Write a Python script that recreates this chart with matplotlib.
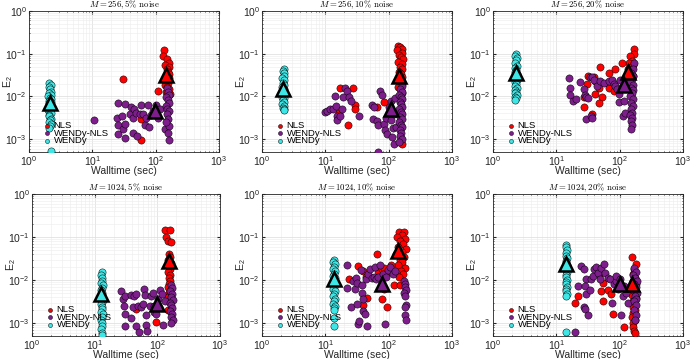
import numpy as np
import matplotlib
matplotlib.use("Agg")
import matplotlib.pyplot as plt

plt.rcParams["font.family"] = "Liberation Sans"
plt.rcParams["mathtext.fontset"] = "custom"
plt.rcParams["mathtext.rm"] = "Liberation Sans"
plt.rcParams["mathtext.it"] = "Liberation Sans:italic"

# (walltime, E2), one list per method and panel
p1_nls = [(135, 0.12), (131, 0.089), (150, 0.075), (160, 0.062), (140, 0.055), (165, 0.05), (150, 0.044),
          (155, 0.038), (160, 0.034), (145, 0.03), (165, 0.027), (155, 0.024), (158, 0.021), (142, 0.019),
          (150, 0.017), (162, 0.015), (148, 0.013), (155, 0.012), (166, 0.0113), (31, 0.025), (108, 0.0135),
          (59, 0.003), (59, 0.00095)]
p1_wnls = [(10.5, 0.0028), (25, 0.0072), (24.5, 0.0031), (25, 0.0021), (25, 0.0013), (29, 0.0035), (30, 0.0017),
           (32.5, 0.0023), (33, 0.00105), (33, 0.0066), (39, 0.0039), (41, 0.0057), (44, 0.0032), (44, 0.0014),
           (46, 0.005), (49.5, 0.0042), (51, 0.0012), (56, 0.0039), (59, 0.0064), (63, 0.0039), (67, 0.0022),
           (71, 0.0031), (76, 0.0064), (79, 0.0019), (85, 0.0036), (91, 0.0046), (102, 0.0064), (108, 0.0032),
           (116, 0.0051), (150, 0.016), (158, 0.013), (162, 0.011), (148, 0.0095), (155, 0.0082), (160, 0.007),
           (145, 0.006), (152, 0.0052), (165, 0.0045), (150, 0.0038), (158, 0.003), (138, 0.0017), (162, 0.002),
           (155, 0.0014), (160, 0.00095), (148, 0.0025)]
p1_wendy = [(2.1, 0.021), (2.2, 0.019), (2.05, 0.017), (2.15, 0.015), (2.25, 0.013), (2.1, 0.012), (2.2, 0.011),
            (2.0, 0.010), (2.15, 0.009), (2.25, 0.0085), (2.1, 0.008), (2.2, 0.0075), (2.05, 0.007), (2.15, 0.0065),
            (2.2, 0.006), (2.1, 0.0055), (2.25, 0.005), (2.0, 0.0047), (2.15, 0.0044), (2.2, 0.004), (2.1, 0.0037),
            (2.05, 0.0034), (2.2, 0.003), (2.15, 0.0028), (2.1, 0.0025), (2.25, 0.0023), (2.15, 0.002),
            (2.1, 0.0018), (2.2, 0.00052)]
p1_tri = [(147, 0.032), (96, 0.0046), (2.12, 0.0069)]

p2_nls = [(140, 0.155), (150, 0.14), (160, 0.13), (135, 0.12), (165, 0.105), (145, 0.095), (155, 0.085),
          (170, 0.075), (140, 0.065), (160, 0.058), (150, 0.05), (165, 0.044), (145, 0.038), (155, 0.033),
          (160, 0.028), (150, 0.024), (165, 0.02), (140, 0.017), (155, 0.0145), (160, 0.012), (158, 0.001),
          (162, 0.00079), (17, 0.0157), (27, 0.0157), (29.7, 0.0064), (29, 0.0051), (23, 0.0021), (65, 0.0058),
          (83, 0.0073), (16.7, 0.0041)]
p2_wnls = [(9.9, 0.0043), (10.5, 0.0046), (11.9, 0.005), (13, 0.005), (14.2, 0.0104), (14.7, 0.006),
           (15.1, 0.0035), (15.5, 0.0028), (17, 0.0034), (18.1, 0.005), (20.5, 0.0157), (19.3, 0.0095),
           (22, 0.0135), (24, 0.0095), (25, 0.0079), (33.4, 0.0035), (54, 0.0064), (59, 0.0058), (56, 0.0029),
           (65, 0.0027), (69, 0.0021), (74, 0.0135), (78, 0.011), (83, 0.0023), (86, 0.0016), (91, 0.0032),
           (94, 0.0013), (100, 0.0056), (107, 0.0028), (110, 0.0079), (113, 0.0011), (120, 0.0038), (69, 0.0005),
           (118, 0.0018), (126, 0.009), (132, 0.0019), (120, 0.00077), (155, 0.022), (165, 0.018), (150, 0.015),
           (160, 0.013), (145, 0.011), (158, 0.0095), (165, 0.0085), (150, 0.0075), (155, 0.0065), (162, 0.0058),
           (148, 0.005), (158, 0.0044), (165, 0.0038), (152, 0.0033), (160, 0.0029), (145, 0.0025), (155, 0.0022),
           (162, 0.0019), (150, 0.0016), (158, 0.0014), (152, 0.0012), (160, 0.001), (148, 0.00085)]
p2_wendy = [(2.2, 0.044), (2.15, 0.04), (2.25, 0.035), (2.2, 0.03), (2.1, 0.027), (2.25, 0.024), (2.15, 0.021),
            (2.2, 0.019), (2.1, 0.017), (2.25, 0.015), (2.2, 0.013), (2.15, 0.012), (2.25, 0.011), (2.1, 0.0098),
            (2.2, 0.009), (2.15, 0.0082), (2.25, 0.0075), (2.1, 0.0068), (2.2, 0.006), (2.15, 0.0055),
            (2.25, 0.005), (2.2, 0.0047)]
p2_tri = [(144, 0.030), (107, 0.0052), (2.15, 0.0148)]

p3_nls = [(167, 0.132), (170, 0.097), (148, 0.089), (157, 0.068), (139, 0.062), (151, 0.048), (165, 0.055),
          (139, 0.038), (109, 0.062), (134, 0.044), (160, 0.03), (150, 0.025), (145, 0.02), (49, 0.048),
          (67, 0.036), (85, 0.044), (32, 0.03), (41, 0.023), (39, 0.028), (63, 0.021), (30, 0.0195), (75, 0.023),
          (48, 0.0154), (69, 0.0157), (82, 0.0136), (41, 0.0117), (52, 0.0095), (48, 0.0072), (27, 0.0058),
          (27.5, 0.0095), (36, 0.0039), (155, 0.015), (150, 0.011)]
p3_wnls = [(16, 0.027), (16.5, 0.0157), (16.5, 0.011), (18.6, 0.0079), (20.5, 0.0087), (23.8, 0.022),
           (27.5, 0.0148), (28.4, 0.011), (29.4, 0.0095), (32, 0.0092), (29.4, 0.0029), (35, 0.0035), (36, 0.0032),
           (34, 0.029), (36, 0.029), (39.5, 0.024), (43.5, 0.018), (49, 0.023), (56, 0.021), (67, 0.023),
           (75, 0.024), (80, 0.0195), (85, 0.018), (90, 0.0148), (96, 0.0113), (96, 0.0075), (102, 0.024),
           (109, 0.0162), (111, 0.0034), (116, 0.0079), (122, 0.0042), (128, 0.0168), (170, 0.062), (160, 0.045),
           (150, 0.035), (165, 0.03), (155, 0.026), (145, 0.022), (160, 0.019), (150, 0.016), (165, 0.014),
           (155, 0.012), (148, 0.01), (160, 0.0085), (152, 0.0072), (165, 0.006), (150, 0.005), (158, 0.0042),
           (148, 0.0036), (155, 0.0031), (150, 0.0027), (158, 0.0022), (152, 0.0017)]
p3_wendy = [(2.3, 0.1), (2.25, 0.09), (2.35, 0.08), (2.3, 0.07), (2.2, 0.06), (2.35, 0.052), (2.25, 0.046),
            (2.3, 0.042), (2.2, 0.038), (2.35, 0.034), (2.3, 0.03), (2.25, 0.027), (2.35, 0.024), (2.2, 0.022),
            (2.3, 0.02), (2.25, 0.018), (2.35, 0.016), (2.2, 0.0145), (2.3, 0.013), (2.25, 0.012), (2.35, 0.011),
            (2.2, 0.0098), (2.3, 0.009), (2.25, 0.0083)]
p3_tri = [(135, 0.038), (116, 0.019), (2.29, 0.036)]

p4_nls = [(134, 0.143), (161, 0.143), (137, 0.1), (147, 0.079), (165, 0.075), (155, 0.04), (160, 0.035),
          (150, 0.03), (165, 0.025), (155, 0.021), (160, 0.018), (150, 0.015), (158, 0.013), (152, 0.011),
          (160, 0.0095), (155, 0.008), (150, 0.007), (162, 0.006), (155, 0.005), (150, 0.004), (46, 0.0021),
          (96, 0.00104), (150, 0.002)]
p4_wnls = [(26.7, 0.0056), (28.5, 0.0037), (30, 0.0043), (29, 0.0025), (31, 0.0016), (31, 0.00086), (38, 0.0045),
           (38, 0.0013), (41, 0.0024), (43, 0.0043), (45, 0.0047), (46, 0.00086), (49, 0.0025), (51, 0.00063),
           (55, 0.0024), (59, 0.0027), (61, 0.0063), (64, 0.0044), (67, 0.0015), (67, 0.0009), (69, 0.00066),
           (75, 0.0025), (80, 0.0043), (85, 0.005), (87, 0.0025), (90, 0.0018), (96, 0.0016), (102, 0.0036),
           (109, 0.006), (120, 0.0047), (123, 0.0009), (134, 0.0033), (165, 0.0075), (172, 0.0065),
           (160, 0.0055), (170, 0.0047), (165, 0.004), (175, 0.0034), (160, 0.003), (168, 0.0026), (172, 0.0022),
           (162, 0.0019), (170, 0.0016), (165, 0.0014), (175, 0.0012), (168, 0.001)]
p4_wendy = [(13, 0.015), (12.7, 0.013), (13.3, 0.011), (13, 0.0095), (12.6, 0.0085), (13.4, 0.0075),
            (13, 0.0065), (12.7, 0.0058), (13.3, 0.005), (13, 0.0045), (12.6, 0.004), (13.4, 0.0035),
            (13, 0.0031), (12.7, 0.0027), (13.3, 0.0024), (13, 0.0021), (12.6, 0.0018), (13.4, 0.0016),
            (13, 0.0014), (12.7, 0.0012), (13.3, 0.001), (13, 0.00085), (12.7, 0.00072), (13.2, 0.0006),
            (13, 0.00053)]
p4_tri = [(153, 0.0275), (99, 0.0027), (12.8, 0.0047)]

p5_nls = [(144, 0.128), (172, 0.128), (160, 0.11), (135, 0.1), (180, 0.09), (150, 0.08), (170, 0.07),
          (140, 0.06), (185, 0.052), (160, 0.045), (130, 0.04), (175, 0.035), (150, 0.03), (165, 0.026),
          (140, 0.022), (180, 0.019), (155, 0.016), (170, 0.014), (145, 0.012), (23.8, 0.0104), (65, 0.041),
          (33, 0.021), (69, 0.0165), (40, 0.016), (44, 0.012), (79, 0.0185), (85, 0.019), (90, 0.014),
          (108, 0.022), (79, 0.0124), (79, 0.0036), (94, 0.0024), (40, 0.0026), (45, 0.0039), (83, 0.0061),
          (120, 0.0075), (150, 0.0075)]
p5_wnls = [(22, 0.0218), (21.7, 0.0066), (25, 0.0024), (27.8, 0.0095), (29.5, 0.0061), (30.6, 0.0113),
           (31.4, 0.0087), (32, 0.0028), (33, 0.00097), (34.5, 0.0011), (36, 0.0175), (37.6, 0.0075), (38, 0.0049),
           (39, 0.0036), (40, 0.0019), (42.5, 0.0016), (45, 0.00087), (44, 0.0104), (48, 0.0135), (51, 0.0183),
           (54, 0.0114), (58, 0.012), (61, 0.0205), (64, 0.0104), (69, 0.012), (74, 0.0218), (81, 0.014),
           (88, 0.00096), (91, 0.012), (98, 0.0175), (106, 0.0205), (117, 0.0135), (127, 0.0162), (175, 0.0095),
           (182, 0.008), (178, 0.007), (185, 0.006), (175, 0.005), (180, 0.0043), (185, 0.0026), (178, 0.0024),
           (182, 0.0015), (185, 0.0012)]
p5_wendy = [(13.7, 0.029), (13.4, 0.026), (14, 0.023), (13.7, 0.02), (13.3, 0.018), (14.1, 0.016),
            (13.7, 0.014), (13.4, 0.0125), (14, 0.011), (13.7, 0.0098), (13.3, 0.0088), (14.1, 0.008),
            (13.7, 0.007), (13.4, 0.0062), (14, 0.0055), (13.7, 0.0048), (13.3, 0.0042), (14.1, 0.0037),
            (13.7, 0.0032), (13.4, 0.0028), (14, 0.0025), (13.7, 0.0022), (13.5, 0.002), (13.7, 0.0013),
            (13.6, 0.00086)]
p5_tri = [(141, 0.047), (78, 0.0079), (13.7, 0.0107)]

p6_nls = [(158, 0.034), (178, 0.023), (167, 0.018), (163, 0.0135), (175, 0.011), (160, 0.0095), (180, 0.008),
          (165, 0.0065), (172, 0.0055), (158, 0.0045), (178, 0.0038), (165, 0.0032), (170, 0.0027),
          (160, 0.0023), (175, 0.002), (165, 0.0017), (158, 0.0014), (172, 0.0012), (165, 0.001), (160, 0.0008),
          (168, 0.00065), (172, 0.00058), (19.5, 0.0029), (22, 0.0043), (51, 0.0056), (55, 0.0084),
          (65, 0.006), (74, 0.0047), (55, 0.0033), (79, 0.0016), (117, 0.00083), (48, 0.013)]
p6_wnls = [(19.5, 0.00062), (22, 0.0073), (24.8, 0.021), (27, 0.018), (29.8, 0.0104), (28, 0.0073),
           (29, 0.0047), (27, 0.0023), (28, 0.0021), (31.6, 0.0015), (34.5, 0.006), (35.7, 0.0104), (38, 0.0124),
           (40, 0.0176), (43, 0.0204), (45.5, 0.0147), (48.5, 0.0107), (51, 0.019), (56, 0.0231), (59, 0.0147),
           (65, 0.0113), (71, 0.0104), (76, 0.0029), (80, 0.0083), (87, 0.0095), (88, 0.0124), (94, 0.0061),
           (100, 0.0104), (106, 0.0015), (112, 0.0043), (119, 0.0071), (127, 0.0051), (135, 0.003),
           (170, 0.019), (180, 0.0155), (165, 0.013), (175, 0.011), (185, 0.0095), (170, 0.008), (180, 0.0068),
           (165, 0.0058), (185, 0.005), (172, 0.0043), (180, 0.0037), (168, 0.0032), (178, 0.0026),
           (170, 0.002), (182, 0.0015), (175, 0.0012)]
p6_wendy = [(14.4, 0.065), (14.1, 0.058), (14.7, 0.05), (14.4, 0.043), (14, 0.037), (14.8, 0.032),
            (14.4, 0.028), (14.1, 0.025), (14.7, 0.022), (14.4, 0.019), (14, 0.017), (14.8, 0.015),
            (14.4, 0.013), (14.1, 0.0115), (14.7, 0.01), (14.4, 0.009), (14, 0.008), (14.8, 0.007),
            (14.4, 0.0062), (14.1, 0.0055), (14.7, 0.0048), (14.4, 0.0043), (14.2, 0.00063)]
p6_tri = [(158, 0.0083), (100, 0.0083), (14.4, 0.023)]

titles = [r"$M = 256, 5\%$ noise", r"$M = 256, 10\%$ noise", r"$M = 256, 20\%$ noise",
          r"$M = 1024, 5\%$ noise", r"$M = 1024, 10\%$ noise", r"$M = 1024, 20\%$ noise"]
labels = ["NLS", "WENDy-NLS", "WENDy"]
colors = ["#ff0000", "#7e1e8c", "#3fe6e6"]

panels = [(p1_nls, p1_wnls, p1_wendy, p1_tri), (p2_nls, p2_wnls, p2_wendy, p2_tri),
          (p3_nls, p3_wnls, p3_wendy, p3_tri), (p4_nls, p4_wnls, p4_wendy, p4_tri),
          (p5_nls, p5_wnls, p5_wendy, p5_tri), (p6_nls, p6_wnls, p6_wendy, p6_tri)]

# axes boxes in pixels: left, right, top, bottom
W, H = 691, 359
boxes = [(29, 219, 11, 152), (262, 452, 11, 152), (493, 683, 11, 152),
         (32, 220, 194, 336), (262, 452, 194, 336), (493, 683, 194, 336)]

fig = plt.figure(figsize=(W / 100, H / 100), dpi=100)

for k, (nls, wnls, wendy, tri) in enumerate(panels):
    l, r, t, b = boxes[k]
    ax = fig.add_axes([l / W, (H - b) / H, (r - l) / W, (b - t) / H])
    ax.set_xscale("log")
    ax.set_yscale("log")
    for pts, c, lab in zip([nls, wnls, wendy], colors, labels):
        a = np.array(pts)
        ax.scatter(a[:, 0], a[:, 1], s=27, c=c, edgecolors="k", linewidths=0.35, label=lab, zorder=3)
    for (tx, ty), c in zip(tri, colors):
        ax.plot(tx, ty, marker="^", ms=9.5, mfc=c, mec="k", mew=1.8, zorder=5)
    ax.set_xlim(1, 1000)
    ax.set_ylim(5e-4, 1)
    ax.set_xticks([1, 10, 100, 1000])
    ax.set_yticks([1e-3, 1e-2, 1e-1, 1])
    ax.grid(True, which="major", color="#dcdcdc", lw=0.5)
    ax.grid(True, which="minor", color="#ececec", lw=0.4)
    ax.set_axisbelow(True)
    ax.tick_params(which="both", direction="in", labelsize=7.5, colors="#262626", length=2,
                   top=True, right=True, pad=1.5)
    ax.tick_params(which="minor", length=1)
    for sp in ax.spines.values():
        sp.set_color("#262626")
        sp.set_linewidth(0.6)
    ax.set_xlabel("Walltime (sec)", fontsize=7.5, color="#262626", labelpad=-1.5)
    ax.set_ylabel(r"E$_\mathregular{2}$", fontsize=7.5, color="#262626")
    ax.yaxis.set_label_coords(-0.075, 0.5)
    ax.set_title(titles[k], fontsize=6.3, family="cmr10", math_fontfamily="cm", pad=0)
    ax.legend(loc="lower left", frameon=False, fontsize=6.8, markerscale=0.55, handletextpad=0.1,
              labelspacing=-0.15, handlelength=1.2, borderaxespad=0.3, bbox_to_anchor=(0.03, 0.0))

fig.savefig("out.png", dpi=100)
